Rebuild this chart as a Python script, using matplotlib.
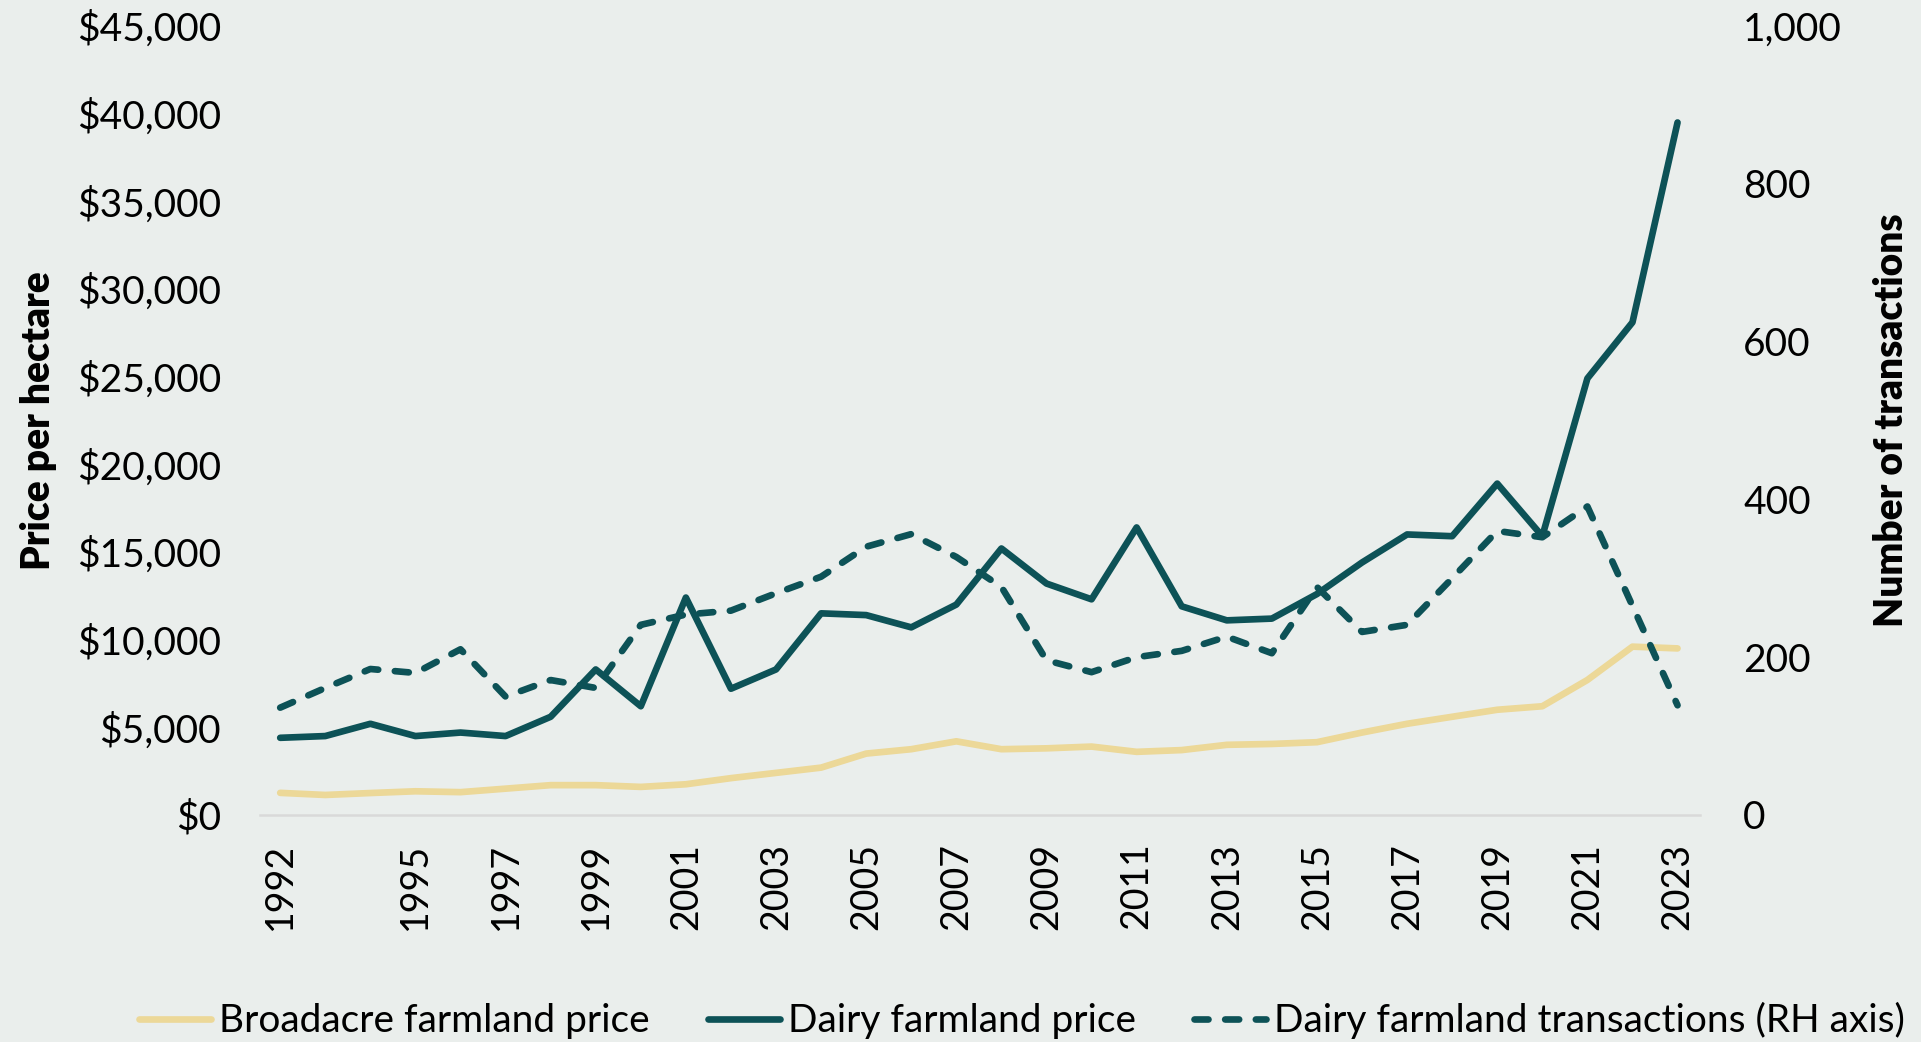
import matplotlib
matplotlib.use("Agg")
import matplotlib.pyplot as plt
from matplotlib.ticker import FuncFormatter, FixedLocator

plt.rcParams['font.family'] = ['Lato', 'DejaVu Sans']

years = list(range(1992, 2024))
broadacre = [1260, 1140, 1250, 1350, 1300, 1500, 1700, 1700, 1600, 1750, 2100,
             2400, 2700, 3500, 3750, 4200, 3750, 3800, 3900, 3600, 3700, 4000,
             4050, 4150, 4700, 5200, 5600, 6000, 6200, 7700, 9600, 9500]
dairy = [4400, 4500, 5200, 4500, 4700, 4500, 5600, 8300, 6200, 12400, 7200,
         8300, 11500, 11400, 10700, 12000, 15200, 13200, 12300, 16400, 11900, 11100,
         11200, 12600, 14400, 16000, 15900, 18900, 15900, 24900, 28100, 39500]
transactions = [136, 161, 185, 180, 210, 150, 171, 161, 241, 254, 259,
                281, 302, 340, 356, 327, 289, 196, 181, 200, 208, 226,
                205, 289, 232, 241, 300, 360, 352, 391, 265, 139]
tick_years = [1992] + list(range(1995, 2024, 2))

bg = '#EAEEEC'
teal = '#0D5257'
sand = '#ECD898'

fig = plt.figure(figsize=(19.21, 10.42), dpi=100, facecolor=bg)
ax = fig.add_axes([0.1353, 0.2179, 0.885 - 0.1353, 0.975 - 0.2179])
ax.set_facecolor(bg)
ax2 = ax.twinx()

l1, = ax.plot(years, broadacre, color=sand, lw=4.8, solid_capstyle='round',
              solid_joinstyle='round', label='Broadacre farmland price')
l2, = ax.plot(years, dairy, color=teal, lw=4.8, solid_capstyle='round',
              label='Dairy farmland price')
l3, = ax2.plot(years, transactions, color=teal, lw=4.8, dashes=(2.1, 2.5),
               dash_capstyle='round', label='Dairy farmland transactions (RH axis)')

ax.set_xlim(1991.55, 2023.5)
ax.set_ylim(0, 45000)
ax2.set_ylim(0, 1000)
ax.set_yticks(range(0, 45001, 5000))
ax2.set_yticks(range(0, 1001, 200))
ax.yaxis.set_major_formatter(FuncFormatter(lambda v, p: f'${v:,.0f}'))
ax2.yaxis.set_major_formatter(FuncFormatter(lambda v, p: f'{v:,.0f}'))
ax.xaxis.set_major_locator(FixedLocator(tick_years))
ax.set_xticklabels([str(y) for y in tick_years], rotation=90)

for a in (ax, ax2):
    for s in a.spines.values():
        s.set_visible(False)
    a.tick_params(length=0, labelsize=28, colors='black')
ax.tick_params(axis='x', labelsize=27, pad=20)
ax.spines['bottom'].set_visible(True)
ax.spines['bottom'].set_color('#D9D9D9')
ax.spines['bottom'].set_linewidth(1.8)
ax.tick_params(axis='y', pad=28)
ax2.tick_params(axis='y', pad=31)

ax.set_ylabel('Price per hectare', fontsize=28, fontweight='heavy', labelpad=14)
ax2.set_ylabel('Number of transactions', fontsize=28, fontweight='heavy', labelpad=22)

fig.legend(handles=[l1, l2, l3], loc='lower center', bbox_to_anchor=(0.532, -0.031),
           ncol=3, frameon=False, fontsize=28, handlelength=1.85, handletextpad=0.2,
           columnspacing=1.5)

fig.savefig('out.png', dpi=100, facecolor=bg)
